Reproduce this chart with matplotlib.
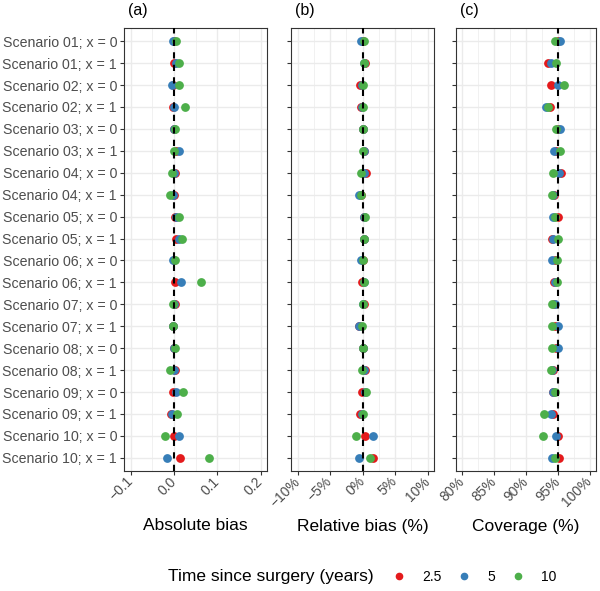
import numpy as np
import matplotlib
matplotlib.use('Agg')
import matplotlib.pyplot as plt
from matplotlib.lines import Line2D

plt.rcParams['font.family'] = ['Liberation Sans', 'DejaVu Sans']

# Row labels (top to bottom)
scenarios = [f'Scenario {i:02d}; x = {x}' for i in range(1, 11) for x in (0, 1)]
times = ['2.5', '5', '10']
colors = {'2.5': '#E41A1C', '5': '#377EB8', '10': '#4DAF4A'}

# Absolute bias
abs_bias_25 = [0.000, 0.001, -0.003, -0.002, 0.001, 0.006, 0.003, 0.001, 0.002, 0.004,
               0.000, 0.002, 0.002, -0.002, 0.001, 0.003, -0.001, -0.007, 0.000, 0.015]
abs_bias_5 = [-0.003, 0.006, -0.004, 0.000, 0.001, 0.013, 0.001, -0.003, 0.006, 0.011,
              -0.002, 0.016, 0.000, -0.002, 0.001, 0.000, 0.006, -0.004, 0.012, -0.015]
abs_bias_10 = [0.006, 0.011, 0.012, 0.025, 0.003, 0.001, -0.005, -0.008, 0.011, 0.018,
               0.003, 0.062, -0.001, -0.002, 0.002, -0.009, 0.021, 0.007, -0.021, 0.080]

# Relative bias (%)
rel_bias_25 = [0.0, 0.4, -0.4, -0.2, 0.1, 0.3, 0.55, -0.2, 0.3, 0.2,
               0.0, -0.05, 0.2, -0.6, 0.1, 0.35, -0.15, -0.45, 0.4, 1.6]
rel_bias_5 = [-0.2, 0.3, -0.15, -0.1, 0.1, 0.2, 0.3, -0.6, 0.3, 0.2,
              -0.2, 0.2, 0.1, -0.5, 0.1, 0.25, 0.35, -0.15, 1.6, -0.5]
rel_bias_10 = [0.2, 0.2, 0.15, 0.1, 0.1, 0.1, -0.3, -0.2, 0.35, 0.25,
               0.05, 0.3, 0.0, -0.15, 0.1, -0.15, 0.6, 0.1, -1.0, 1.2]

# Coverage (%)
cov_25 = [95.1, 93.5, 94.0, 93.7, 95.0, 94.7, 95.5, 94.45, 95.05, 94.1,
          94.5, 94.4, 94.4, 94.5, 94.7, 94.3, 94.3, 94.2, 95.0, 95.2]
cov_5 = [95.35, 93.9, 95.05, 93.2, 95.35, 94.4, 95.15, 94.2, 94.25, 94.2,
         94.1, 94.5, 94.5, 95.0, 95.05, 94.05, 94.25, 93.85, 94.65, 94.1]
cov_10 = [94.6, 94.7, 95.9, 93.45, 94.65, 95.35, 94.3, 94.05, 94.5, 95.0,
          94.8, 94.8, 94.15, 94.1, 94.1, 93.9, 94.6, 92.85, 92.7, 94.5]

panels = [
    ('(a)', 'Absolute bias', [abs_bias_25, abs_bias_5, abs_bias_10], 0.0,
     [-0.1, 0.0, 0.1, 0.2], ['\u22120.1', '0.0', '0.1', '0.2'], [-0.05, 0.05, 0.15], 0.015),
    ('(b)', 'Relative bias (%)', [rel_bias_25, rel_bias_5, rel_bias_10], 0.0,
     [-10, -5, 0, 5, 10], ['\u221210%', '\u22125%', '0%', '5%', '10%'], [-7.5, -2.5, 2.5, 7.5], 1.0),
    ('(c)', 'Coverage (%)', [cov_25, cov_5, cov_10], 95.0,
     [80, 85, 90, 95, 100], ['80%', '85%', '90%', '95%', '100%'], [82.5, 87.5, 92.5, 97.5], 1.0),
]

W, H = 600, 591
fig = plt.figure(figsize=(W / 100, H / 100), dpi=100)
lefts = [124, 291, 456]
widths = [143, 143, 140]
y = np.arange(len(scenarios))

for k, (tag, xlabel, series, ref, ticks, ticklabels, minor, pad) in enumerate(panels):
    pw = widths[k]
    ax = fig.add_axes([lefts[k] / W, (H - 471) / H, pw / W, 443 / H])
    for t in ticks + minor:
        ax.axvline(t, color='#EBEBEB', lw=1.0 if t in ticks else 0.5, zorder=0)
    for yy in y:
        ax.axhline(yy, color='#EBEBEB', lw=1.0, zorder=0)
    for t, vals in zip(times, series):
        ax.scatter(vals, y, s=40, color=colors[t], linewidths=0, zorder=2)
    ax.axvline(ref, color='black', lw=1.5, ls=(0, (3, 3)), zorder=3)
    ax.set_xlim(ticks[0] - pad, ticks[-1] + pad)
    ax.set_ylim(len(scenarios) - 0.4, -0.6)
    ax.set_xticks(ticks)
    ax.set_xticklabels(ticklabels, rotation=45, ha='right', va='center', rotation_mode='anchor')
    ax.set_yticks(y)
    if k == 0:
        ax.set_yticklabels(scenarios)
    else:
        ax.set_yticklabels([])
        ax.tick_params(axis='y', length=0)
    ax.tick_params(labelsize=10, labelcolor='#4D4D4D', color='#333333', length=3, width=0.8)
    ax.tick_params(axis='x', pad=3)
    ax.tick_params(axis='y', labelsize=10.2, pad=2)
    for s in ax.spines.values():
        s.set_color('#333333')
        s.set_linewidth(0.8)
    fig.text((lefts[k] + pw / 2) / W, (H - 526) / H, xlabel, fontsize=12.5,
             ha='center', va='center')
    fig.text((lefts[k] + 4) / W, (H - 11) / H, tag, fontsize=11.5, ha='left', va='center')

fig.text(168 / W, (H - 577) / H, 'Time since surgery (years)', fontsize=12.5, va='center', ha='left')
handles = [Line2D([], [], marker='o', ls='', color=colors[t], markersize=4.5) for t in times]
fig.legend(handles, times, loc='center left', bbox_to_anchor=((399 - 7) / W, (H - 577) / H),
           ncol=3, frameon=False, fontsize=10, handletextpad=1.15, columnspacing=1.15,
           handlelength=1.0, borderpad=0, borderaxespad=0)

fig.savefig('out.png', dpi=100)
